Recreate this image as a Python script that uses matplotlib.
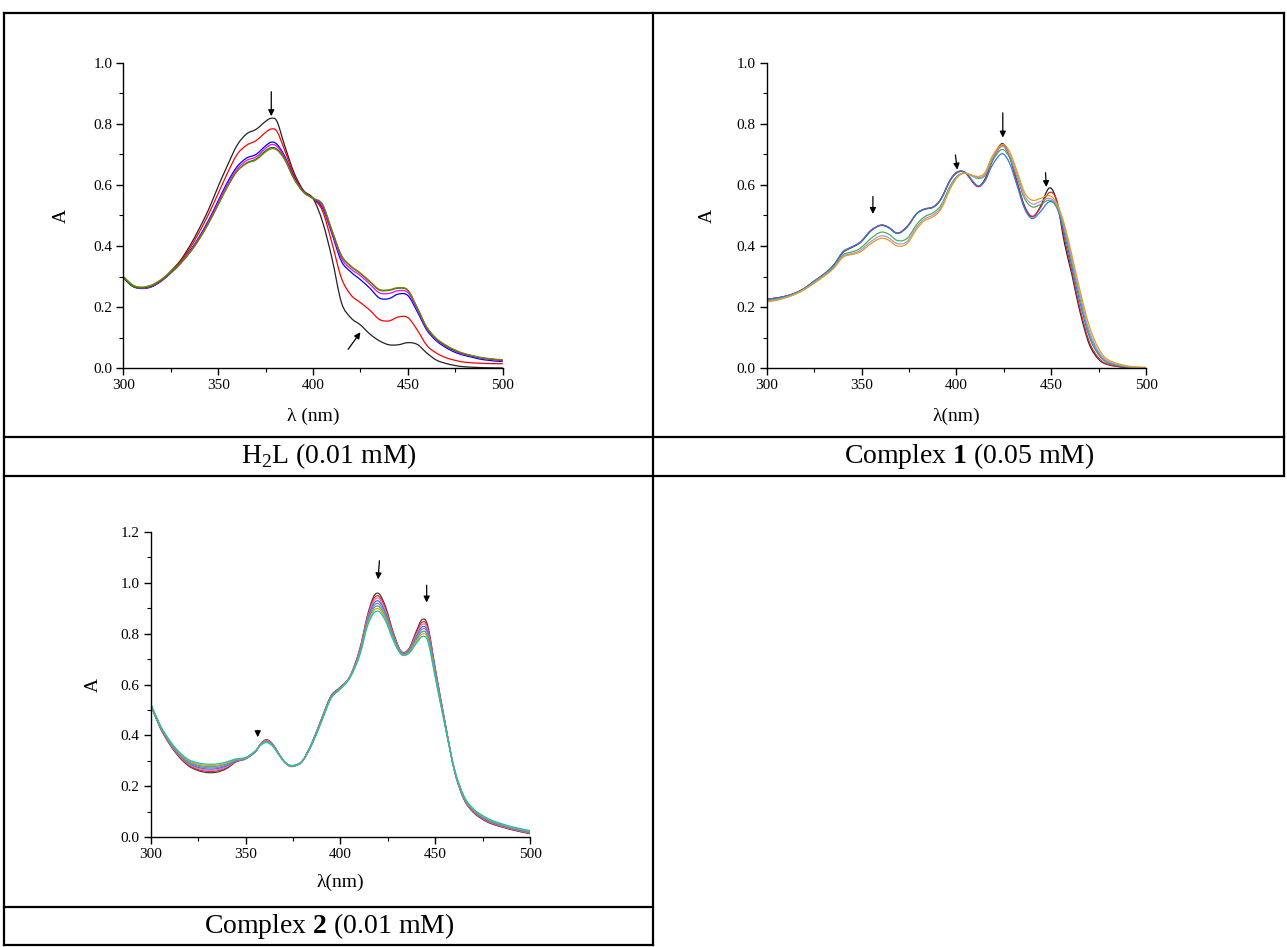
import matplotlib
matplotlib.use("Agg")
import matplotlib.pyplot as plt
from matplotlib.lines import Line2D
from matplotlib.patches import PathPatch
from matplotlib.path import Path
from matplotlib.ticker import MultipleLocator

plt.rcParams['font.family'] = ['Liberation Serif', 'DejaVu Serif']
plt.rcParams['mathtext.fontset'] = 'custom'
plt.rcParams['mathtext.rm'] = 'Liberation Serif'
plt.rcParams['mathtext.bf'] = 'Liberation Serif:bold'

W, H = 1287, 947

# ---- H2L (0.01 mM) ----
wl_h2l = [300, 305, 310, 315, 320, 325, 330, 335, 340, 345, 350, 355, 360, 365, 370, 375,
          378, 381, 385, 390, 395, 400, 405, 410, 415, 420, 425, 430, 435, 440, 445, 450,
          455, 460, 465, 470, 475, 480, 490, 500]
h2l_black = [.300, .272, .262, .268, .288, .318, .352, .400, .457, .520, .595, .665, .730, .767, .782, .808,
             .818, .808, .730, .640, .582, .556, .480, .360, .215, .165, .142, .112, .090, .077, .077, .084,
             .078, .050, .027, .016, .009, .005, .002, .001]
h2l_red = [.298, .270, .262, .268, .287, .315, .348, .392, .445, .505, .572, .640, .700, .730, .745, .772,
           .783, .775, .715, .632, .580, .556, .515, .410, .295, .240, .215, .190, .160, .155, .168, .166,
           .125, .075, .050, .035, .026, .020, .016, .015]
h2l_blue = [.296, .268, .261, .267, .285, .312, .343, .383, .430, .485, .548, .610, .660, .688, .700, .728,
            .740, .733, .695, .625, .578, .556, .525, .440, .350, .315, .290, .262, .230, .228, .243, .238,
            .185, .125, .090, .068, .052, .042, .028, .022]
h2l_magenta = [.297, .269, .262, .268, .286, .312, .342, .380, .426, .480, .542, .603, .652, .680, .692, .720,
               .732, .726, .690, .622, .577, .556, .530, .445, .360, .325, .303, .275, .247, .245, .254, .248,
               .192, .130, .094, .072, .056, .045, .032, .025]
h2l_green = [.297, .268, .263, .270, .288, .313, .342, .378, .422, .475, .535, .595, .645, .672, .685, .712,
             .722, .717, .685, .620, .576, .556, .535, .450, .368, .333, .310, .283, .256, .255, .262, .255,
             .197, .133, .096, .074, .058, .047, .033, .027]
h2l_olive = [.300, .272, .266, .273, .291, .316, .344, .379, .423, .476, .536, .596, .645, .670, .682, .708,
             .718, .714, .684, .620, .577, .557, .537, .452, .370, .335, .312, .285, .258, .257, .264, .256,
             .198, .135, .098, .076, .060, .048, .034, .028]
h2l_series = [h2l_black, h2l_red, h2l_blue, h2l_magenta, h2l_green, h2l_olive]
h2l_colors = ['#222222', '#ff0000', '#0000ff', '#ff00ff', '#008000', '#808000']
h2l_arrows = [((378, 0.905), (378, 0.825)), ((418.5, 0.062), (425, 0.118))]

# ---- Complex 1 (0.05 mM) ----
wl_c1 = [300, 305, 310, 315, 320, 325, 330, 335, 340, 343, 347, 350, 355, 360, 364, 369, 374, 379, 383,
         388, 392, 397, 401, 405, 411, 415, 419, 424, 428, 432, 436, 440, 444, 449, 453, 457, 461, 465,
         470, 475, 480, 490, 500]
c1_black = [.226, .230, .236, .246, .262, .285, .307, .335, .378, .390, .402, .415, .450, .468, .462, .442,
            .463, .505, .520, .528, .555, .618, .643, .638, .596, .618, .682, .735, .695, .610, .530, .496,
            .525, .590, .545, .410, .305, .190, .080, .030, .012, .002, .000]
c1_red = [.226, .230, .236, .246, .262, .285, .307, .335, .379, .391, .403, .416, .451, .468, .462, .442,
          .464, .506, .521, .529, .556, .619, .644, .638, .595, .616, .678, .728, .692, .608, .528, .497,
          .522, .575, .548, .425, .315, .200, .088, .034, .013, .003, .000]
c1_blue = [.225, .229, .236, .246, .262, .285, .307, .335, .380, .392, .404, .417, .452, .467, .461, .441,
           .462, .505, .520, .528, .555, .617, .642, .640, .598, .612, .665, .702, .672, .598, .522, .490,
           .510, .545, .525, .440, .330, .220, .105, .045, .018, .004, .001]
c1_green = [.222, .226, .233, .244, .260, .282, .304, .330, .370, .378, .385, .396, .425, .445, .440, .418,
            .425, .470, .495, .510, .535, .600, .632, .638, .622, .630, .680, .716, .690, .625, .555, .528,
            .535, .550, .530, .455, .345, .235, .115, .050, .020, .005, .001]
c1_violet = [.220, .224, .232, .243, .259, .280, .302, .327, .366, .373, .379, .389, .415, .433, .428, .408,
             .415, .462, .488, .503, .528, .595, .630, .638, .625, .634, .688, .726, .700, .635, .565, .538,
             .545, .556, .535, .462, .355, .245, .125, .055, .023, .006, .002]
c1_orange = [.218, .222, .231, .242, .258, .278, .300, .325, .362, .370, .375, .383, .408, .425, .420, .400,
             .408, .455, .482, .497, .522, .590, .628, .638, .628, .640, .695, .732, .710, .645, .575, .550,
             .555, .565, .540, .470, .368, .260, .140, .065, .028, .008, .003]
c1_series = [c1_black, c1_red, c1_blue, c1_green, c1_violet, c1_orange]
c1_colors = ['#222222', '#e8262a', '#2c7be5', '#3cb35e', '#c08ae0', '#d9a21b']
c1_arrows = [((356, 0.562), (356, 0.505)), ((399.5, 0.698), (400.5, 0.650)),
             ((424.5, 0.836), (424.5, 0.755)), ((447, 0.640), (447.5, 0.593))]

# ---- Complex 2 (0.01 mM) ----
wl_c2 = [300, 305, 310, 315, 320, 325, 330, 335, 340, 345, 350, 355, 358, 361, 364, 367, 370, 373, 376,
         380, 385, 390, 395, 400, 405, 410, 414, 417, 419, 421, 424, 428, 432, 436, 440, 443, 446, 450,
         455, 460, 465, 470, 475, 480, 490, 500]
c2_k0 = [.520, .430, .365, .315, .280, .262, .254, .256, .270, .296, .308, .335, .368, .383, .368, .335,
         .300, .280, .280, .300, .372, .465, .555, .590, .632, .735, .865, .938, .958, .950, .900, .800,
         .730, .740, .810, .855, .830, .660, .455, .262, .150, .098, .070, .052, .030, .014]
c2_k1 = [.521, .431, .367, .318, .284, .266, .259, .261, .274, .298, .309, .335, .367, .381, .367, .334,
         .300, .281, .281, .300, .371, .464, .554, .589, .631, .732, .859, .929, .948, .940, .892, .796,
         .728, .737, .803, .845, .821, .655, .453, .263, .152, .100, .072, .054, .032, .016]
c2_k2 = [.521, .433, .369, .321, .287, .271, .263, .265, .277, .299, .309, .336, .366, .380, .366, .334,
         .300, .281, .281, .300, .370, .462, .552, .588, .631, .728, .854, .920, .938, .931, .884, .791,
         .727, .735, .796, .836, .813, .650, .451, .264, .153, .102, .074, .056, .033, .017]
c2_k3 = [.522, .434, .371, .324, .291, .275, .268, .270, .281, .301, .310, .336, .365, .378, .365, .333,
         .300, .282, .282, .300, .369, .461, .551, .587, .630, .725, .848, .911, .928, .921, .876, .787,
         .725, .732, .789, .826, .804, .645, .449, .265, .155, .104, .076, .058, .035, .019]
c2_k4 = [.523, .436, .374, .326, .294, .279, .273, .274, .285, .303, .311, .337, .365, .377, .363, .332,
         .300, .282, .282, .300, .368, .459, .549, .586, .629, .722, .842, .902, .918, .911, .869, .783,
         .723, .730, .783, .817, .796, .640, .446, .265, .157, .106, .079, .060, .037, .021]
c2_k5 = [.524, .437, .376, .329, .298, .283, .278, .279, .289, .305, .312, .337, .364, .375, .362, .331,
         .300, .283, .283, .300, .367, .458, .548, .585, .629, .719, .836, .893, .908, .901, .861, .779,
         .721, .727, .776, .807, .787, .635, .444, .266, .159, .108, .081, .062, .039, .023]
c2_k6 = [.524, .439, .378, .332, .301, .288, .282, .283, .292, .306, .312, .338, .363, .374, .361, .331,
         .300, .283, .283, .300, .366, .456, .546, .584, .628, .715, .831, .884, .898, .892, .853, .774,
         .720, .725, .769, .798, .779, .630, .442, .267, .160, .110, .083, .064, .040, .024]
c2_k7 = [.525, .440, .380, .335, .305, .292, .287, .288, .296, .308, .313, .338, .362, .372, .360, .330,
         .300, .284, .284, .300, .365, .455, .545, .583, .627, .712, .825, .875, .888, .882, .845, .770,
         .718, .722, .762, .788, .770, .625, .440, .268, .162, .112, .085, .066, .042, .026]
c2_series = [c2_k0, c2_k1, c2_k2, c2_k3, c2_k4, c2_k5, c2_k6, c2_k7]
c2_colors = ['#404040', '#e8262a', '#ff6fae', '#2c7be5', '#a070e0', '#3cb35e', '#e8a317', '#17bfbf']
c2_arrows = [((420.5, 1.086), (419.8, 1.013)), ((445.4, 0.990), (445.4, 0.922)),
             ((356.4, 0.420), (356.4, 0.393))]

captions = [r'H$_\mathregular{2}$L (0.01 mM)', r'Complex $\mathbf{1}$ (0.05 mM)',
            r'Complex $\mathbf{2}$ (0.01 mM)']


def px_rect(l, t, r, b):
    return [l / W, 1 - b / H, (r - l) / W, (b - t) / H]


def style_axes(ax, ymax, xlabel, xlab_y, ylab_x):
    ax.set_xlim(300, 500)
    ax.set_ylim(0, ymax)
    ax.xaxis.set_major_locator(MultipleLocator(50))
    ax.xaxis.set_minor_locator(MultipleLocator(25))
    ax.yaxis.set_major_locator(MultipleLocator(0.2))
    ax.yaxis.set_minor_locator(MultipleLocator(0.1))
    ax.yaxis.set_major_formatter(plt.FuncFormatter(lambda v, p: f'{v:.1f}'))
    for s in ['top', 'right']:
        ax.spines[s].set_visible(False)
    for s in ['left', 'bottom']:
        ax.spines[s].set_linewidth(1.0)
    ax.tick_params(which='major', direction='out', length=5, width=1.0, labelsize=11, pad=3)
    ax.tick_params(which='minor', direction='out', length=3, width=0.8)
    ax.set_xlabel(xlabel, fontsize=14)
    ax.set_ylabel('A', fontsize=14)
    ax.xaxis.set_label_coords(0.5, xlab_y)
    ax.yaxis.set_label_coords(ylab_x, 0.5)


def spline_path(xs, ys):
    # smooth connector through the read points (Catmull-Rom drawn as cubic Bezier)
    n = len(xs)
    verts = [(xs[0], ys[0])]
    codes = [Path.MOVETO]
    for i in range(n - 1):
        x0, y0 = (xs[i - 1], ys[i - 1]) if i > 0 else (xs[i], ys[i])
        x1, y1 = xs[i], ys[i]
        x2, y2 = xs[i + 1], ys[i + 1]
        x3, y3 = (xs[i + 2], ys[i + 2]) if i + 2 < n else (x2, y2)
        verts += [(x1 + (x2 - x0) / 6, y1 + (y2 - y0) / 6),
                  (x2 - (x3 - x1) / 6, y2 - (y3 - y1) / 6),
                  (x2, y2)]
        codes += [Path.CURVE4] * 3
    return Path(verts, codes)


def draw(ax, wl, series, colors, arrows):
    for ys, c in zip(series, colors):
        ax.add_patch(PathPatch(spline_path(wl, ys), fill=False, edgecolor=c, lw=0.9))
    for tail, head in arrows:
        ax.annotate('', xy=head, xytext=tail,
                    arrowprops=dict(arrowstyle='-|>', color='black', lw=0.9,
                                    mutation_scale=9, shrinkA=0, shrinkB=0))


fig = plt.figure(figsize=(W / 100, H / 100), dpi=100)

ax1 = fig.add_axes(px_rect(123.3, 62.7, 502.7, 368.3))
draw(ax1, wl_h2l, h2l_series, h2l_colors, h2l_arrows)
style_axes(ax1, 1.0, 'λ (nm)', -0.13, -0.14)

ax2 = fig.add_axes(px_rect(766.7, 62.7, 1146.0, 368.3))
draw(ax2, wl_c1, c1_series, c1_colors, c1_arrows)
style_axes(ax2, 1.0, 'λ(nm)', -0.13, -0.135)

ax3 = fig.add_axes(px_rect(150.7, 531.7, 530.3, 837.3))
draw(ax3, wl_c2, c2_series, c2_colors, c2_arrows)
style_axes(ax3, 1.2, 'λ(nm)', -0.12, -0.13)


# table grid lines (pixel coordinates)
def hline(y, x0, x1):
    fig.add_artist(Line2D([x0 / W, x1 / W], [1 - y / H, 1 - y / H], color='black', lw=1.6))


def vline(x, y0, y1):
    fig.add_artist(Line2D([x / W, x / W], [1 - y0 / H, 1 - y1 / H], color='black', lw=1.6))


hline(13, 4, 1284)
hline(437, 4, 1284)
hline(476, 4, 1284)
hline(907, 4, 653)
hline(945, 4, 653)
vline(4, 13, 945)
vline(653, 13, 945)
vline(1284, 13, 476)

fig.text(329 / W, 1 - 456 / H, captions[0], ha='center', va='center', fontsize=20)
fig.text(969 / W, 1 - 456 / H, captions[1], ha='center', va='center', fontsize=20)
fig.text(329 / W, 1 - 926 / H, captions[2], ha='center', va='center', fontsize=20)

fig.savefig('out.png', dpi=100)
